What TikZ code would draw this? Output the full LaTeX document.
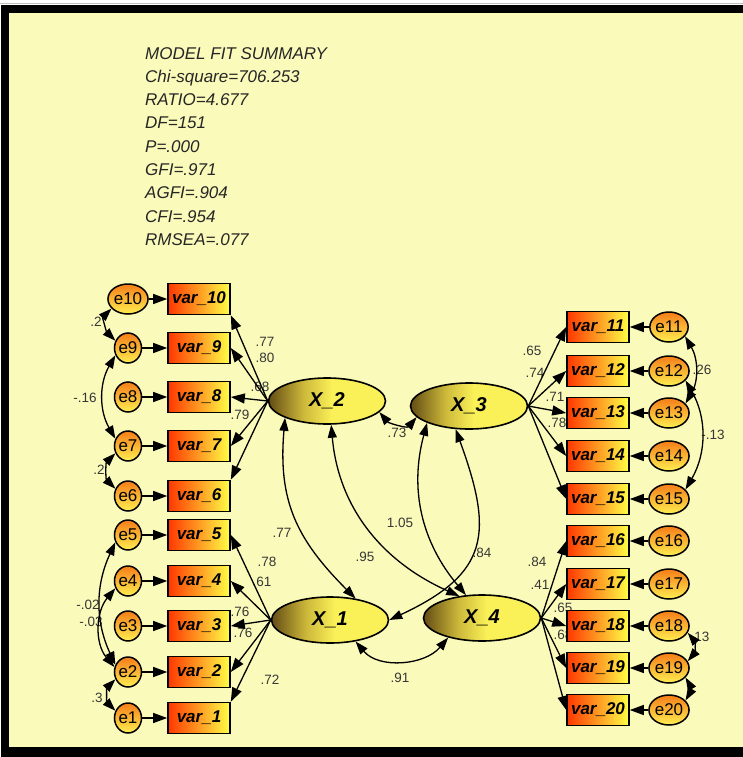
\documentclass[tikz,border=0pt]{standalone}
\usepackage{fontspec}
\setsansfont{Liberation Sans}
\usetikzlibrary{arrows.meta, positioning, shapes.geometric}

\definecolor{paper}{RGB}{250,250,186}
\definecolor{boxred}{RGB}{255,55,0}
\definecolor{boxyellow}{RGB}{255,255,70}
\definecolor{errorange}{RGB}{245,125,25}
\definecolor{erryellow}{RGB}{255,238,80}
\definecolor{latdark}{RGB}{100,76,20}
\definecolor{latmid}{RGB}{205,185,58}
\definecolor{latyellow}{RGB}{250,240,88}
\definecolor{esttext}{RGB}{55,55,55}

\pgfdeclarehorizontalshading{latentshade}{100bp}{color(0bp)=(latdark); color(25bp)=(latdark); color(40bp)=(latmid); color(52bp)=(latyellow); color(100bp)=(latyellow)}

\tikzset{
	observed/.style={draw=black, line width=1.6pt, minimum width=62pt, minimum height=31pt, inner sep=0pt, left color=boxred, right color=boxyellow, font=\sffamily\bfseries\itshape\fontsize{17}{19}\selectfont},
	errnode/.style={ellipse, draw=black, line width=1.5pt, minimum width=27pt, minimum height=30pt, inner sep=0pt, top color=errorange, bottom color=erryellow, font=\sffamily\fontsize{17}{19}\selectfont},
	latent/.style={ellipse, draw=black, line width=1.6pt, minimum width=117pt, minimum height=46pt, shading=latentshade, font=\sffamily\bfseries\itshape\fontsize{20}{22}\selectfont},
	est/.style={text=esttext, inner sep=0pt, font=\sffamily\fontsize{13.5}{15}\selectfont},
	regpath/.style={line width=1.3pt, -{Triangle[length=14pt, width=10pt]}},
	cov/.style={line width=1.3pt, {Triangle[length=13pt, width=9pt]}-{Triangle[length=13pt, width=9pt]}},
}

\begin{document}
\begin{tikzpicture}[x=1pt, y=1pt, node distance=71pt]
	\useasboundingbox (0,0) rectangle (743,-757);
	% frame
	\fill[white] (0,0) rectangle (743,-757);
	\draw[gray!50] (0,-3.5) -- (743,-3.5);
	\fill[black] (1,-5) rectangle (743,-757);
	\fill[paper] (9,-13) rectangle (743,-747);

	% fit summary
	\node (fit) [anchor=north west, inner sep=0pt, align=left, text=black!85, font=\sffamily\itshape\fontsize{17}{23.3}\selectfont] at (145,-47)
		{MODEL FIT SUMMARY\\Chi-square=706.253\\RATIO=4.677\\DF=151\\P=.000\\GFI=.971\\AGFI=.904\\CFI=.954\\RMSEA=.077};

	% estimates
	\node[est] (l10) at (265,-342) {.77};
	\node[est] (l9) at (265,-358) {.80};
	\node[est] (l8) at (260,-387) {.68};
	\node[est] (l7) at (240,-415) {.79};
	\node[est] (l5) at (267,-562) {.78};
	\node[est] (l4) at (262,-582) {.61};
	\node[est] (l3) at (240,-612) {.76};
	\node[est] (l2) at (243,-633) {.76};
	\node[est] (l1) at (270,-680) {.72};
	\node[est] (l11) at (532,-351) {.65};
	\node[est] (l12) at (535,-373) {.74};
	\node[est] (l13) at (555,-397) {.71};
	\node[est] (l14) at (557,-423) {.78};
	\node[est] (l16) at (537,-562) {.84};
	\node[est] (l17) at (540,-585) {.41};
	\node[est] (l18) at (563,-608) {.65};
	\node[est] (l19) at (563,-635) {.68};
	\node[est] (c23) at (397,-433) {.73};
	\node[est] (c21) at (282,-533) {.77};
	\node[est] (c24) at (365,-557) {.95};
	\node[est] (c34) at (400,-523) {1.05};
	\node[est] (c31) at (482,-553) {.84};
	\node[est] (c14) at (400,-678) {.91};
	\node[est] (r109) at (96,-322) {.2};
	\node[est] (r97) at (85,-398) {-.16};
	\node[est] (r76) at (99,-470) {.2};
	\node[est] (r52) at (88,-605) {-.02};
	\node[est] (r42) at (91,-622) {-.03};
	\node[est] (r21) at (97,-698) {.3};
	\node[est] (r1113) at (702,-370) {.26};
	\node[est] (r1215) at (713,-435) {-.13};
	\node[est] (r1819) at (700,-637) {.13};

	% observed variables and errors, left
	\node[observed] (var10) at (199,-299) {var\_10};
	\node[observed] (var9) at (199,-348) {var\_9};
	\node[observed] (var8) at (199,-397) {var\_8};
	\node[observed] (var7) at (199,-446) {var\_7};
	\node[observed] (var6) at (199,-496) {var\_6};
	\node[observed] (var5) at (199,-535) {var\_5};
	\node[observed] (var4) at (199,-581) {var\_4};
	\node[observed] (var3) at (199,-626) {var\_3};
	\node[observed] (var2) at (199,-672) {var\_2};
	\node[observed] (var1) at (199,-718) {var\_1};
	\node[errnode] (e10) [left of=var10] {e10};
	\node[errnode] (e9) [left of=var9] {e9};
	\node[errnode] (e8) [left of=var8] {e8};
	\node[errnode] (e7) [left of=var7] {e7};
	\node[errnode] (e6) [left of=var6] {e6};
	\node[errnode] (e5) [left of=var5] {e5};
	\node[errnode] (e4) [left of=var4] {e4};
	\node[errnode] (e3) [left of=var3] {e3};
	\node[errnode] (e2) [left of=var2] {e2};
	\node[errnode] (e1) [left of=var1] {e1};

	% observed variables and errors, right
	\node[observed] (var11) at (598,-327) {var\_11};
	\node[observed] (var12) at (598,-371) {var\_12};
	\node[observed] (var13) at (598,-413) {var\_13};
	\node[observed] (var14) at (598,-456) {var\_14};
	\node[observed] (var15) at (598,-499) {var\_15};
	\node[observed] (var16) at (598,-541) {var\_16};
	\node[observed] (var17) at (598,-584) {var\_17};
	\node[observed] (var18) at (598,-626) {var\_18};
	\node[observed] (var19) at (598,-668) {var\_19};
	\node[observed] (var20) at (598,-710) {var\_20};
	\node[errnode] (e11) [right of=var11] {e11};
	\node[errnode] (e12) [right of=var12] {e12};
	\node[errnode] (e13) [right of=var13] {e13};
	\node[errnode] (e14) [right of=var14] {e14};
	\node[errnode] (e15) [right of=var15] {e15};
	\node[errnode] (e16) [right of=var16] {e16};
	\node[errnode] (e17) [right of=var17] {e17};
	\node[errnode] (e18) [right of=var18] {e18};
	\node[errnode] (e19) [right of=var19] {e19};
	\node[errnode] (e20) [right of=var20] {e20};

	% latent factors
	\node[latent] (X2) at (327,-401) {X\_2};
	\node[latent] (X3) at (469,-406) {X\_3};
	\node[latent] (X1) at (330,-620) {X\_1};
	\node[latent] (X4) at (482,-618) {X\_4};

	% error paths
	\draw[regpath] (e10) -- (var10);
	\draw[regpath] (e9) -- (var9);
	\draw[regpath] (e8) -- (var8);
	\draw[regpath] (e7) -- (var7);
	\draw[regpath] (e6) -- (var6);
	\draw[regpath] (e5) -- (var5);
	\draw[regpath] (e4) -- (var4);
	\draw[regpath] (e3) -- (var3);
	\draw[regpath] (e2) -- (var2);
	\draw[regpath] (e1) -- (var1);
	\draw[regpath] (e11) -- (var11);
	\draw[regpath] (e12) -- (var12);
	\draw[regpath] (e13) -- (var13);
	\draw[regpath] (e14) -- (var14);
	\draw[regpath] (e15) -- (var15);
	\draw[regpath] (e16) -- (var16);
	\draw[regpath] (e17) -- (var17);
	\draw[regpath] (e18) -- (var18);
	\draw[regpath] (e19) -- (var19);
	\draw[regpath] (e20) -- (var20);

	% loadings
	\draw[regpath] (X2.west) -- (var10.south east);
	\draw[regpath] (X2.west) -- (var9.east);
	\draw[regpath] (X2.west) -- (var8.east);
	\draw[regpath] (X2.west) -- (var7.east);
	\draw[regpath] (X2.west) -- (var6.north east);
	\draw[regpath] (X1.west) -- (var5.east);
	\draw[regpath] (X1.west) -- (var4.east);
	\draw[regpath] (X1.west) -- (var3.east);
	\draw[regpath] (X1.west) -- (var2.east);
	\draw[regpath] (X1.west) -- (var1.north east);
	\draw[regpath] (X3.east) -- (var11.west);
	\draw[regpath] (X3.east) -- (var12.west);
	\draw[regpath] (X3.east) -- (var13.west);
	\draw[regpath] (X3.east) -- (var14.west);
	\draw[regpath] (X3.east) -- (var15.west);
	\draw[regpath] (X4.east) -- (var16.west);
	\draw[regpath] (X4.east) -- (var17.west);
	\draw[regpath] (X4.east) -- (var18.west);
	\draw[regpath] (X4.east) -- (var19.west);
	\draw[regpath] (X4.east) -- (var20.west);

	% factor covariances
	\draw[cov] (X2.-12) to[out=-50, in=-130] (X3.-168);
	\draw[cov] (X2.south west) to[out=-95, in=135, looseness=1.1] (X1.40);
	\draw[cov] (X2.-80) to[out=-85, in=156] (X4.136);
	\draw[cov] (X3.south west) to[out=-105, in=130] (X4.125);
	\draw[cov] (X3.-120) to[out=-70, in=25, looseness=1.4] (X1.east);
	\draw[cov] (X1.-40) to[out=-50, in=-130] (X4.-150);

	% error covariances
	\draw[cov] (e10.-150) to[out=-135, in=135] (e9.150);
	\draw[cov] (e9.-150) to[out=-120, in=120] (e7.150);
	\draw[cov] (e7.-150) to[out=-135, in=135] (e6.150);
	\draw[cov] (e5.-150) to[out=-115, in=115] (e2.150);
	\draw[cov] (e4.-150) to[out=-130, in=130] (e2.160);
	\draw[cov] (e2.-150) to[out=-135, in=135] (e1.150);
	\draw[cov] (e11.-30) to[out=-60, in=60] (e13.30);
	\draw[cov] (e12.-30) to[out=-60, in=60] (e15.30);
	\draw[cov] (e18.-20) to[out=-50, in=50] (e19.20);
	\draw[cov] (e19.-30) to[out=-60, in=60] (e20.30);
\end{tikzpicture}
\end{document}
